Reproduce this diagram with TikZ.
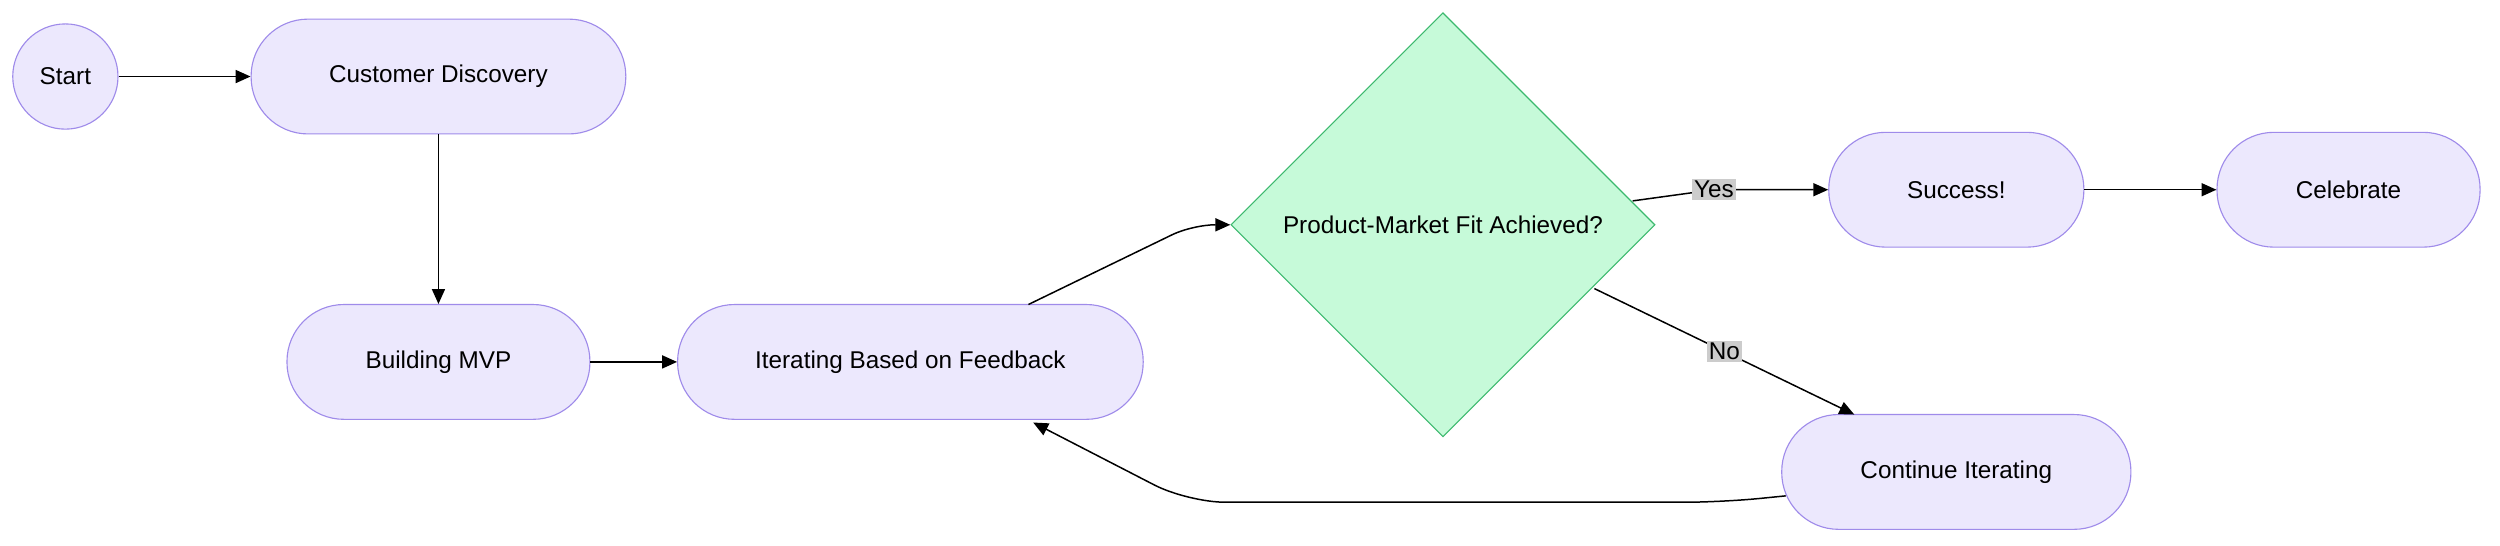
\documentclass[tikz,border=0pt]{standalone}
\usepackage{fontspec}
\setmainfont{Liberation Sans}
\usetikzlibrary{shapes.geometric,arrows.meta,positioning}
\definecolor{boxfill}{HTML}{ECE8FD}
\definecolor{boxline}{HTML}{9F8BEA}
\definecolor{decfill}{HTML}{C6FAD9}
\definecolor{decline}{HTML}{3CB96E}
\definecolor{lblfill}{HTML}{CCCCCC}

\begin{document}
\begin{tikzpicture}[
    x=0.03cm, y=-0.03cm,
    font=\fontsize{13}{15}\selectfont,
    stage/.style={rectangle, draw=boxline, fill=boxfill, rounded corners=1.07cm, minimum height=2.16cm, line width=0.6pt},
    startnode/.style={circle, draw=boxline, fill=boxfill, minimum size=1.98cm, line width=0.6pt},
    decision/.style={diamond, aspect=1, draw=decline, fill=decfill, minimum width=7.98cm, minimum height=7.98cm, inner sep=0pt, line width=0.6pt},
    lbl/.style={fill=lblfill, inner sep=1pt},
    arrow/.style={-{Triangle[length=8pt,width=7pt]}, line width=0.8pt}
]
\useasboundingbox (0,0) rectangle (1568,342);

% Nodes
\node[startnode] (start) at (41,48) {Start};
\node[stage, minimum width=7.05cm] (discovery) at (275,48) {Customer Discovery};
\node[stage, minimum width=5.7cm] (mvp) at (275,227) {Building MVP};
\node[stage, minimum width=8.76cm] (iterate) at (571,227) {Iterating Based on Feedback};
\node[decision] (fit) at (905,141) {Product-Market Fit Achieved?};
\node[stage, minimum width=4.8cm] (success) at (1227,119) {Success!};
\node[stage, minimum width=4.95cm] (celebrate) at (1473,119) {Celebrate};
\node[stage, minimum width=6.57cm] (continue) at (1227,296) {Continue Iterating};
\coordinate (itop) at (645,191);
\coordinate (yesout) at (1024,126);
\coordinate (noout) at (1000,181);
\coordinate (nodown) at (1163,260);
\coordinate (cleft) at (1120,311);
\coordinate (iback) at (648,265);

% Edges
\draw[arrow] (start) -- (discovery);
\draw[arrow] (discovery) -- (mvp);
\draw[arrow] (mvp) -- (iterate);
\draw[arrow, rounded corners=12pt] (itop) -- (748,141) -- (fit.west);
\draw[arrow] (yesout) -- (1075,119) node[lbl] {Yes} -- (success);
\draw[arrow] (noout) -- node[lbl, pos=0.5] {No} (nodown);
\draw[arrow, rounded corners=20pt] (cleft) -- (1080,315) -- (745,315) -- (iback);
\draw[arrow] (success) -- (celebrate);

\end{tikzpicture}
\end{document}
